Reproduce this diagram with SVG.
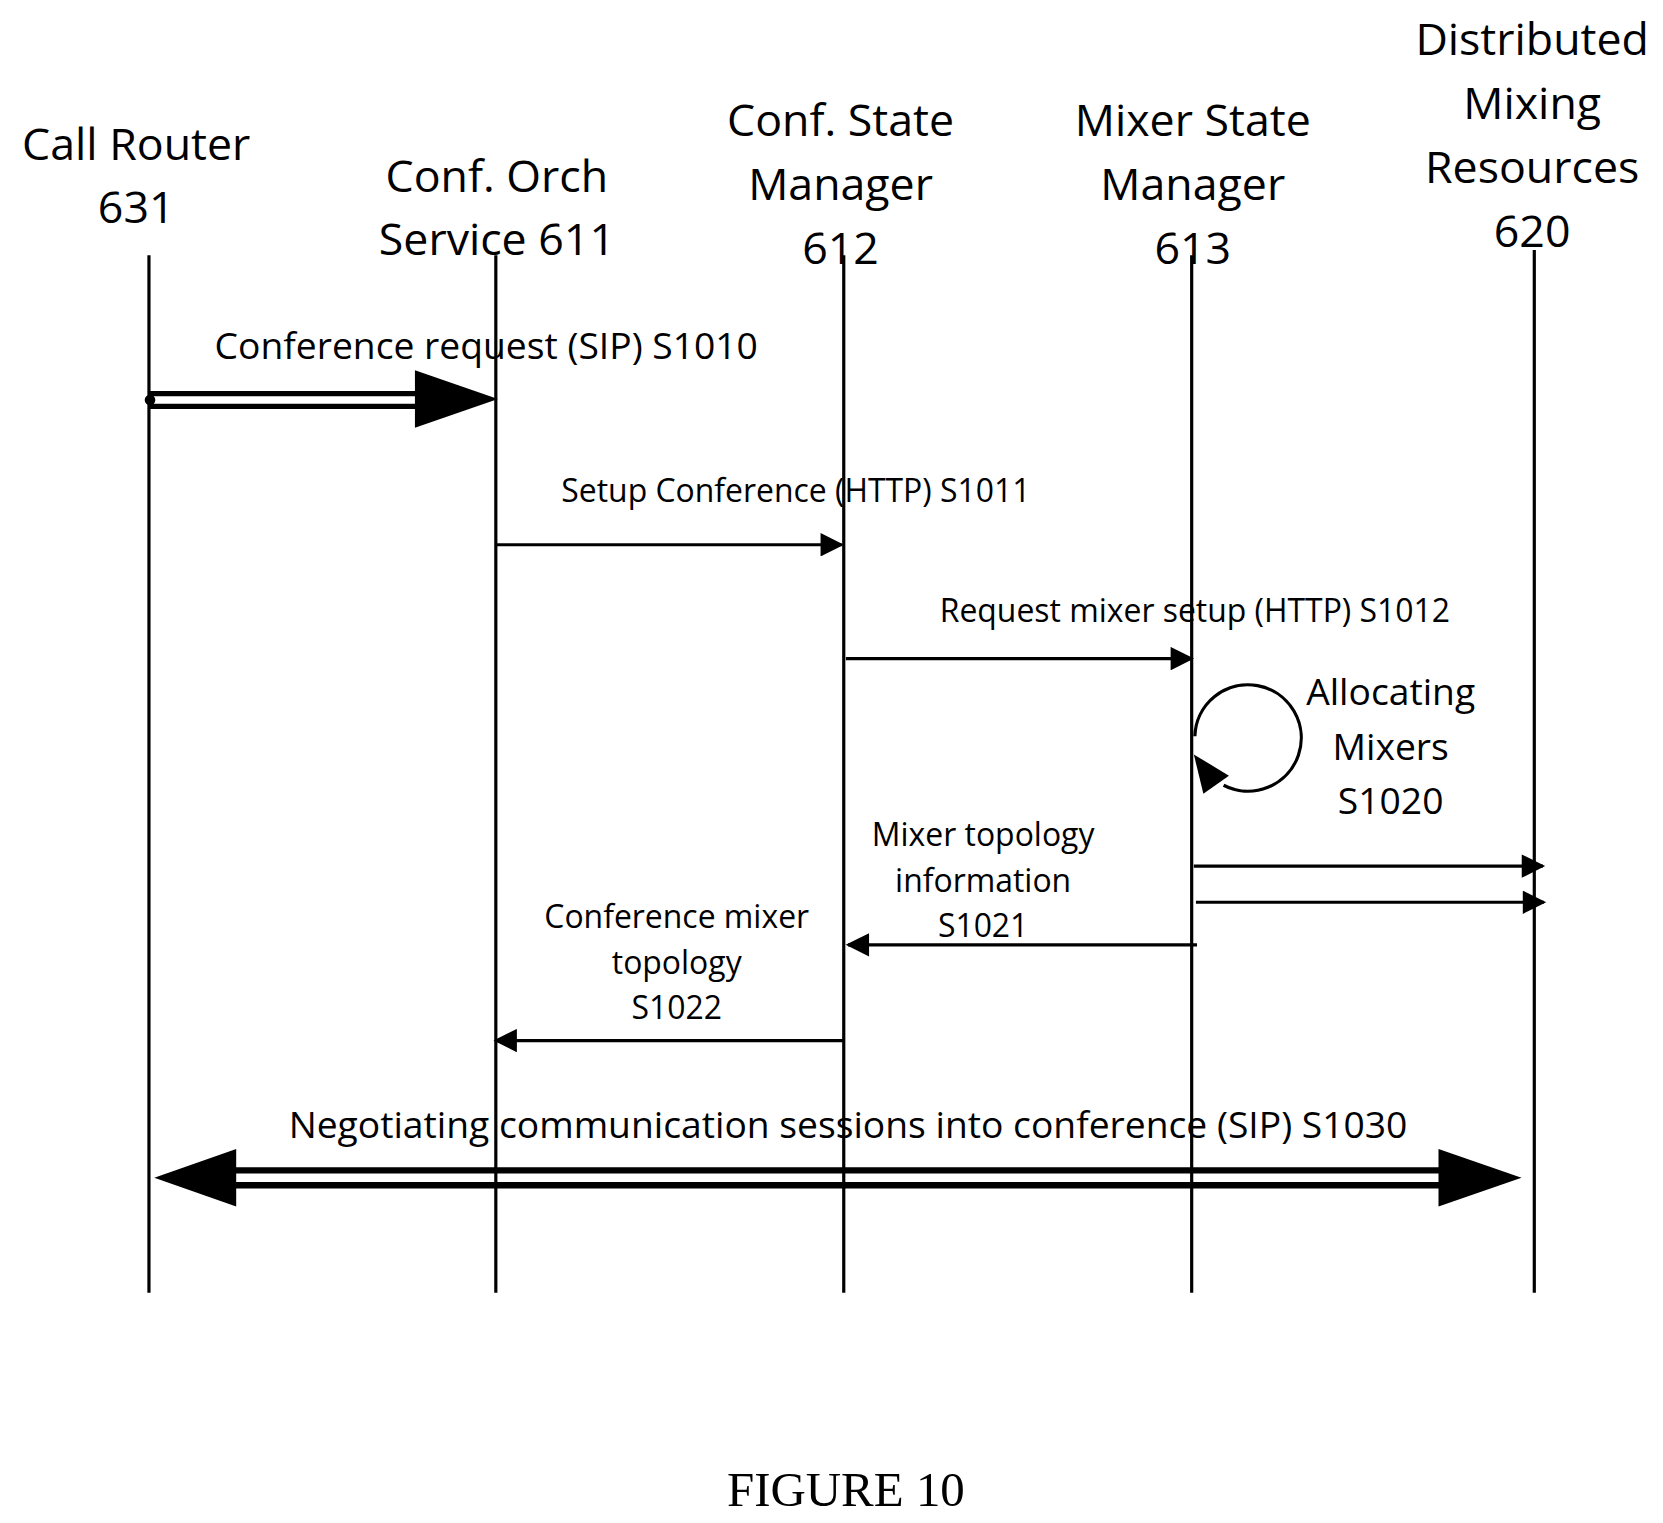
<svg xmlns="http://www.w3.org/2000/svg" width="1663" height="1523" viewBox="0 0 1663 1523">
<style>
.h{font-family:"Open Sans","Liberation Sans",sans-serif;font-size:42px;text-anchor:middle;fill:#000}
.m{font-family:"Open Sans","Liberation Sans",sans-serif;font-size:30px;text-anchor:middle;fill:#000}
.b{font-family:"Open Sans","Liberation Sans",sans-serif;font-size:35px;text-anchor:middle;fill:#000}
.l{stroke:#000;stroke-width:3;fill:none}
</style>
<defs><marker id="a" markerWidth="10" markerHeight="10" refX="9" refY="5" orient="auto" markerUnits="userSpaceOnUse" viewBox="0 0 10 10"><path d="M0,0L10,5L0,10z"/></marker>
<marker id="ar" viewBox="0 0 10 10" refX="9" refY="5" markerWidth="26" markerHeight="22" orient="auto" markerUnits="userSpaceOnUse"><path d="M0,0L10,5L0,10z"/></marker></defs>
<rect width="1663" height="1523" fill="#fff"/>
<g transform="scale(1.064)">
<g id="n631"><text class="h" x="128" y="150">Call Router</text><text class="h" x="128" y="210">631</text><line class="l" x1="140" y1="240" x2="140" y2="1215"/></g>
<g id="n611"><text class="h" x="467" y="180">Conf. Orch</text><text class="h" x="467" y="240">Service 611</text><line class="l" x1="466" y1="240" x2="466" y2="1215"/></g>
<g id="n612"><text class="h" x="790" y="128">Conf. State</text><text class="h" x="790" y="188">Manager</text><text class="h" x="790" y="248">612</text><line class="l" x1="793" y1="240" x2="793" y2="1215"/></g>
<g id="n613"><text class="h" x="1121" y="128">Mixer State</text><text class="h" x="1121" y="188">Manager</text><text class="h" x="1121" y="248">613</text><line class="l" x1="1120" y1="240" x2="1120" y2="1215"/></g>
<g id="n620"><text class="h" x="1440" y="52">Distributed</text><text class="h" x="1440" y="112">Mixing</text><text class="h" x="1440" y="172">Resources</text><text class="h" x="1440" y="232">620</text><line class="l" x1="1442" y1="235" x2="1442" y2="1215"/></g>
<g id="connectors">
<path d="M140,370H395M140,382H395" stroke="#000" stroke-width="5"/><circle cx="141" cy="376" r="5"/>
<path d="M390,348L468,375L390,402z"/>
<text class="b" x="457" y="337">Conference request (SIP) S1010</text>
<line class="l" x1="466" y1="512" x2="791" y2="512" marker-end="url(#ar)"/>
<text class="m" x="748" y="472">Setup Conference (HTTP) S1011</text>
<line class="l" x1="795" y1="619" x2="1120" y2="619" marker-end="url(#ar)"/>
<text class="m" x="1123" y="585">Request mixer setup (HTTP) S1012</text>
<path class="l" d="M1123,692A50,50 0 1 1 1150,738"/>
<path d="M1122,709L1155,729L1131,746z"/>
<text class="b" x="1307" y="663">Allocating</text><text class="b" x="1307" y="714">Mixers</text><text class="b" x="1307" y="765">S1020</text>
<line class="l" x1="1122" y1="814" x2="1450" y2="814" marker-end="url(#ar)"/>
<line class="l" x1="1124" y1="848" x2="1451" y2="848" marker-end="url(#ar)"/>
<line class="l" x1="1125" y1="888" x2="797" y2="888" marker-end="url(#ar)"/>
<text class="m" x="924" y="795">Mixer topology</text><text class="m" x="924" y="838">information</text><text class="m" x="924" y="881">S1021</text>
<line class="l" x1="793" y1="978" x2="466" y2="978" marker-end="url(#ar)"/>
<text class="m" x="636" y="872">Conference mixer</text><text class="m" x="636" y="915">topology</text><text class="m" x="636" y="958">S1022</text>
<path d="M215,1100H1360M215,1114H1360" stroke="#000" stroke-width="6"/>
<path d="M145,1107L222,1080L222,1134z"/><path d="M1430,1107L1352,1080L1352,1134z"/>
<text class="b" x="797" y="1070">Negotiating communication sessions into conference (SIP) S1030</text>
</g>
<text x="795" y="1415" font-family="Liberation Serif,serif" font-size="46" text-anchor="middle">FIGURE 10</text>
</g>
</svg>
